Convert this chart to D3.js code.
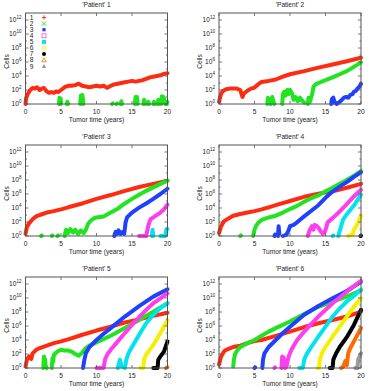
<!DOCTYPE html>
<html><head><meta charset="utf-8">
<script src="https://cdn.jsdelivr.net/npm/d3@7"></script>
<style>
html,body{margin:0;padding:0;background:#fff;}
svg{display:block;font-family:"Liberation Sans",Arial,sans-serif;}
</style></head>
<body><svg id="c" width="374" height="391"></svg>
<script>
// ---- data: [time (years), log10(cells)], null = gap ----
const xTicks = [0, 5, 10, 15, 20];
const yExps = [0, 2, 4, 6, 8, 10, 12];
const legendLabels = ["1","2","3","4","5","6","7","8","9"];
const titles = ["'Patient' 1","'Patient' 2","'Patient' 3","'Patient' 4","'Patient' 5","'Patient' 6"];

const p1s1 = [[0,0],[0.1,0.9],[0.3,1.4],[0.6,1.9],[1,2.3],[1.3,2.2],[1.6,2.4],[2,2.0],[2.3,2.2],[2.6,2.3],[3,1.8],[3.3,1.6],[3.6,1.7],[4,1.6],[4.3,1.8],[4.6,1.7],[5,2.0],[5.5,2.4],[6,2.6],[6.5,2.6],[7,2.7],[7.5,2.9],[8,2.6],[8.5,2.5],[9,2.4],[9.5,2.5],[10,2.6],[10.5,2.5],[11,2.6],[11.5,2.3],[12,2.6],[12.5,2.8],[13,2.9],[13.5,3.0],[14,3.1],[14.5,3.2],[15,3.3],[15.5,3.2],[16,3.3],[16.5,3.4],[17,3.6],[17.5,3.8],[18,3.9],[18.5,4.0],[19,4.1],[19.5,4.3],[20,4.4]];
const p1s2 = [[4.7,0],[4.8,0.9],[4.85,0.3],[4.95,0.8],[5.0,0],null,[5.8,0],[5.9,0.3],[6.0,0],null,[7.7,0],[7.8,1.2],[7.9,0.6],[8.0,1.3],[8.1,0.5],[8.15,0],null,[12.2,0],[12.3,0.1],null,[12.8,0],[12.9,0.1],null,[13.4,0],[13.5,0.4],[13.6,0],null,[15.4,0],[15.5,1.0],[15.6,0.5],[15.7,1.0],[15.8,0],null,[16.6,0],[16.7,0.6],[16.8,0],null,[17.2,0],[17.3,0.3],[17.4,0],null,[18.0,0],[18.1,0.3],[18.2,0],null,[18.6,0],[18.7,0.6],[18.8,0],null,[19.1,0],[19.2,1.1],[19.3,0.7],[19.45,1.0],[19.6,0.2],[19.7,0],null,[19.9,0],[20,0.3]];

const p2s1 = [[0,0.3],[0.3,1.5],[0.6,1.9],[1,2.1],[1.5,2.2],[2,2.2],[2.5,2.2],[3,2.0],[3.3,1.0],[3.5,1.5],[4,1.9],[4.5,2.2],[5,2.35],[5.5,2.8],[6,3.15],[7,3.3],[8,3.5],[9,3.9],[10,4.25],[12,4.7],[14,5.2],[16,5.65],[18,6.1],[20,6.6]];
const p2s2 = [[6.8,0],[6.9,0.9],[7.0,0.2],[7.3,0],[7.5,1.0],[7.7,0.3],[7.8,0],null,[8.9,0],[9.0,1.4],[9.2,1.75],[9.4,1.2],[9.6,2.0],[9.8,1.4],[10.0,2.0],[10.3,1.5],[10.5,0.6],[10.8,1.0],[11.1,0.4],[11.4,0.9],[11.7,0.5],[12.0,0.2],null,[12.5,0],[12.6,0.9],[12.8,0.3],[13.0,1.0],[13.15,1.5],[13.3,2.45],[13.6,2.8],[14,3.0],[15,3.4],[16,3.8],[17,4.25],[18,4.7],[19,5.3],[20,5.95]];
const p2s3 = [[15.8,0],[15.9,0.7],[16.1,0.9],[16.3,0.2],[16.6,0],[17.0,0.3],[17.3,0.6],[17.6,0.9],[17.9,1.0],[18.2,0.9],[18.5,1.3],[18.8,1.4],[19.0,1.75],[19.3,1.9],[19.5,2.2],[19.8,2.5],[20,2.9]];

const p3s1 = [[0,0.3],[0.2,1.3],[0.5,1.8],[1,2.4],[1.5,2.8],[2,3.0],[3,3.35],[4,3.55],[5,3.8],[6,4.1],[8,4.65],[10,5.3],[12,5.85],[14,6.45],[16,7.0],[18,7.45],[20,7.9]];
const p3s2 = [[2.2,0],[2.3,0.1],null,[3.7,0],[3.8,0.1],null,[4.5,0],[4.6,0.1],null,[5.5,0],[5.7,0.9],[6.0,0.4],[6.3,1.0],[6.7,0.5],[7.0,0.9],[7.4,0.3],[7.8,0.8],[8.2,0.4],[8.5,0.9],[8.8,1.7],[9.2,2.2],[9.6,2.5],[10,2.65],[11,2.8],[12,3.35],[13,3.9],[14,4.65],[15,5.3],[16,5.9],[17,6.45],[18,6.95],[19,7.45],[20,7.9]];
const p3s3 = [[12.5,0],[12.7,0.6],[12.9,0.3],[13.1,0.8],[13.4,0.3],[13.7,0.6],[13.9,0.3],[14.1,1.95],[14.3,2.65],[15,3.35],[16,4.05],[17,4.65],[18,5.3],[19,6.0],[20,6.75]];
const p3s4 = [[16.0,0],[16.6,0],[17.0,0],[17.3,1.5],[17.6,2.4],[18,2.65],[19,3.35],[19.5,3.8],[20,4.5]];
const p3s5 = [[17.8,0],[17.9,0.9],[18.0,0],null,[19.0,0],[19.7,0],[19.85,1.0],[20,1.0]];

const p4s1 = [[0,0.4],[0.3,1.4],[0.7,2.1],[1,2.3],[2,2.9],[3,3.15],[4,3.35],[5,3.55],[6,3.8],[7,4.1],[8,4.4],[10,5.0],[12,5.6],[14,6.05],[16,6.4],[18,6.9],[20,7.45]];
const p4s2 = [[3.0,0],[3.1,0.1],null,[4.8,0],[5.0,0.9],[5.2,1.4],[5.5,1.85],[6,2.3],[7,2.65],[8,2.9],[9,3.35],[10,3.85],[11,4.3],[12,4.9],[13,5.4],[14,5.8],[15,6.4],[16,6.9],[17,7.45],[18,8.0],[19,8.6],[20,9.3]];
const p4s3 = [[7.8,0],[7.9,0.2],null,[8.3,0],[8.4,1.4],[8.5,0.3],null,[9.0,0],[9.5,0.2],[9.8,0.8],[10,1.4],[10.5,1.6],[11,1.95],[11.5,2.4],[12,2.8],[13,3.6],[14,4.4],[15,5.45],[16,6.35],[17,7.05],[18,7.7],[19,8.45],[20,9.1]];
const p4s4 = [[12.5,0],[12.8,0.9],[13.1,1.4],[13.3,0.9],[13.5,1.6],[13.8,1.4],[14,1.2],[14.3,0.7],[14.6,0.3],[14.9,0.6],[15.1,1.2],[15.3,1.95],[16,2.55],[17,3.5],[18,4.55],[19,5.65],[20,6.6]];
const p4s5 = [[16.0,0],[16.1,0.1],null,[16.8,0],[17.2,1.4],[17.5,2.4],[18,3.1],[19,4.35],[20,5.9]];
const p4s6 = [[18.2,0],[18.8,0.2],[19,0.9],[19.5,1.7],[20,2.9]];
const p4s7 = [[19.95,0],[20,0.05]];

const p5s1 = [[0,0.2],[0.2,1.2],[0.5,1.65],[0.8,1.3],[1,2.1],[1.5,2.6],[2,2.85],[3,3.2],[4,3.55],[5,3.8],[6,4.1],[8,4.75],[10,5.35],[12,5.9],[14,6.5],[16,6.95],[18,7.45],[20,7.9]];
const p5s2 = [[2.5,0],[2.6,1.65],[2.75,1.2],[2.85,0.3],[3.0,0],null,[3.7,0],[3.8,1.4],[3.9,0.9],[4,1.9],[4.5,2.35],[5,2.6],[5.5,2.5],[6,2.5],[6.5,2.35],[7,2.0],[7.5,1.75],[8,2.2],[8.5,2.85],[9,3.2],[10,3.65],[12,4.6],[14,5.7],[16,6.85],[18,8.05],[20,9.25]];
const p5s3 = [[8.1,0],[8.3,1.2],[8.5,2.1],[9,3.0],[10,4.0],[11,4.9],[12,5.7],[14,7.35],[16,8.85],[18,10.2],[20,11.25]];
const p5s4 = [[10.0,0],[11.0,0],[11.2,1.2],[11.5,1.9],[12,2.6],[13,3.8],[14,5.0],[15,6.15],[16,7.25],[17,8.3],[18,9.25],[19,9.95],[20,10.65]];
const p5s5 = [[13.0,0],[13.3,1.2],[13.5,0.3],[14.0,0],[14.2,1.2],[14.5,2.1],[15,3.0],[16,4.75],[17,6.4],[18,7.6],[19,8.55],[20,9.25]];
const p5s6 = [[16.2,0],[16.6,0],[16.7,1.2],[17,1.9],[18,3.3],[19,5.0],[20,6.85]];
const p5s7 = [[18.0,0],[18.6,0],[18.7,1.2],[19,1.65],[19.5,2.35],[20,3.8]];
const p5s8 = [[19.8,0],[20,0.1]];

const p6s1 = [[0,0.5],[0.3,1.65],[0.7,2.35],[1,2.6],[2,3.0],[3,3.2],[4,3.55],[5,3.85],[6,4.0],[8,4.6],[10,5.2],[12,5.85],[14,6.4],[16,6.85],[18,7.35],[20,8.05]];
const p6s2 = [[2.0,0.2],[2.1,1.2],[2.3,2.1],[2.7,2.7],[3,3.0],[4,3.55],[5,4.0],[6,4.6],[7,5.2],[8,5.7],[10,6.65],[12,7.7],[14,8.75],[16,9.5],[18,10.2],[20,11.1]];
const p6s3 = [[5.0,0],[5.1,0.1],null,[6.1,0],[6.2,1.2],[6.4,2.1],[7,3.0],[8,4.0],[9,5.0],[10,5.9],[12,7.6],[14,8.85],[16,9.95],[18,11.0],[20,12.3]];
const p6s4 = [[7.8,0],[7.9,0.1],null,[8.8,0],[8.9,1.65],[9.0,0.9],[9.1,1.5],[9.3,0],[9.5,0.2],[9.7,1.2],[9.9,1.9],[10.2,2.6],[11,4.0],[12,5.2],[13,6.3],[14,7.35],[16,9.25],[18,10.9],[20,12.45]];
const p6s5 = [[11.3,0],[11.8,0],[12.0,1.2],[12.3,1.9],[13,3.0],[14,4.5],[15,5.9],[16,7.35],[17,8.5],[18,9.5],[19,10.3],[20,11.2]];
const p6s6 = [[13.9,0],[14.1,0],[14.2,1.2],[14.5,2.1],[15,3.0],[16,4.5],[17,5.9],[18,7.35],[19,8.75],[20,9.95]];
const p6s7 = [[15.6,0],[16.0,0],[16.1,1.2],[16.5,2.1],[17,3.0],[18,4.4],[19,6.15],[20,8.3]];
const p6s8 = [[17.2,0],[17.5,0.2],[17.8,1.0],[18.0,0.4],[18.2,2.1],[18.5,2.85],[19,3.8],[20,5.7]];
const p6s9 = [[19.2,0],[19.5,0],[19.6,1.2],[20,2.1]];

const seriesColors = ["#ff2b10","#1fe41f","#2040ff","#ff3cf0","#00e4f0","#f5ef00","#000000","#ff6a00","#9a9a9a"];

const panels = [
  [p1s1,p1s2],
  [p2s1,p2s2,p2s3],
  [p3s1,p3s2,p3s3,p3s4,p3s5],
  [p4s1,p4s2,p4s3,p4s4,p4s5,p4s6,p4s7],
  [p5s1,p5s2,p5s3,p5s4,p5s5,p5s6,p5s7,p5s8],
  [p6s1,p6s2,p6s3,p6s4,p6s5,p6s6,p6s7,p6s8,p6s9]
];

// ---- layout ----
const colX = [25.5, 219], rowY = [13, 145, 277], PW = 142, PH = 91;
const svg = d3.select("#c");
const axisColor = "#555";
const fs = 6.6;

function symbol(g, i, cx, cy, col) {
  const s = 2.2;
  const p = g.append("g").attr("transform", `translate(${cx},${cy})`);
  if (i === 0) { p.append("path").attr("d",`M${-s},0H${s}M0,${-s}V${s}`).attr("stroke",col).attr("stroke-width",0.9); }
  else if (i === 1) { p.append("path").attr("d",`M${-s},${-s}L${s},${s}M${-s},${s}L${s},${-s}`).attr("stroke",col).attr("stroke-width",0.9); }
  else if (i === 2) { p.append("rect").attr("x",-1.6).attr("y",-1.6).attr("width",3.2).attr("height",3.2).attr("fill",col); }
  else if (i === 3) { p.append("rect").attr("x",-2).attr("y",-2).attr("width",4).attr("height",4).attr("fill","none").attr("stroke",col).attr("stroke-width",0.8); }
  else if (i === 4) { p.append("rect").attr("x",-2).attr("y",-2).attr("width",4).attr("height",4).attr("fill",col); }
  else if (i === 5) { p.append("circle").attr("r",2).attr("fill","none").attr("stroke",col).attr("stroke-width",0.8); }
  else if (i === 6) { p.append("circle").attr("r",2).attr("fill",col); }
  else if (i === 7) { p.append("path").attr("d","M0,-2.2L2.2,1.6L-2.2,1.6Z").attr("fill","none").attr("stroke",col).attr("stroke-width",0.8); }
  else { p.append("path").attr("d","M0,-2.2L2.2,1.6L-2.2,1.6Z").attr("fill",col); }
}

panels.forEach((series, pi) => {
  const x0 = colX[pi % 2], y0 = rowY[Math.floor(pi / 2)];
  const x = d3.scaleLinear().domain([0, 20]).range([x0, x0 + PW]);
  const y = d3.scaleLog().domain([1, 1e13]).range([y0 + PH, y0]);
  const g = svg.append("g");

  // data
  const line = d3.line().defined(d => d !== null).x(d => x(d[0])).y(d => y(Math.pow(10, d[1])));
  series.forEach((s, si) => {
    g.append("path").attr("d", line(s)).attr("fill", "none")
      .attr("stroke", seriesColors[si]).attr("stroke-width", 4)
      .attr("stroke-linejoin", "round").attr("stroke-linecap", "round");
  });

  // frame
  g.append("rect").attr("x", x0).attr("y", y0).attr("width", PW).attr("height", PH)
    .attr("fill", "none").attr("stroke", axisColor).attr("stroke-width", 1);

  // x ticks
  xTicks.forEach(t => {
    const xx = x(t);
    g.append("line").attr("x1", xx).attr("x2", xx).attr("y1", y0 + PH).attr("y2", y0 + PH - 3).attr("stroke", axisColor).attr("stroke-width", 0.8);
    g.append("line").attr("x1", xx).attr("x2", xx).attr("y1", y0).attr("y2", y0 + 3).attr("stroke", axisColor).attr("stroke-width", 0.8);
    g.append("text").attr("x", xx).attr("y", y0 + PH + 9.5).attr("text-anchor", "middle")
      .attr("font-size", fs).attr("fill", "#222").text(t);
  });
  // y ticks
  d3.range(0, 13).forEach(e => {
    const yy = y(Math.pow(10, e));
    const len = e % 2 === 0 ? 3 : 1.6;
    g.append("line").attr("x1", x0).attr("x2", x0 + len).attr("y1", yy).attr("y2", yy).attr("stroke", axisColor).attr("stroke-width", 0.8);
    g.append("line").attr("x1", x0 + PW).attr("x2", x0 + PW - len).attr("y1", yy).attr("y2", yy).attr("stroke", axisColor).attr("stroke-width", 0.8);
  });
  yExps.forEach(e => {
    const yy = y(Math.pow(10, e));
    const t = g.append("text").attr("x", x0 - 4).attr("y", yy + 2.3).attr("text-anchor", "end")
      .attr("font-size", fs).attr("fill", "#222");
    t.append("tspan").text("10");
    t.append("tspan").attr("dy", -3).attr("font-size", 4.6).text(e);
  });

  // labels
  g.append("text").attr("x", x0 + PW / 2).attr("y", y0 - 6).attr("text-anchor", "middle")
    .attr("font-size", fs).attr("fill", "#222").text(titles[pi]);
  g.append("text").attr("x", x0 + PW / 2).attr("y", y0 + PH + 17.5).attr("text-anchor", "middle")
    .attr("font-size", fs).attr("fill", "#222").text("Tumor time (years)");
  g.append("text").attr("transform", `translate(${x0 - 17},${y0 + PH / 2 + 3}) rotate(-90)`)
    .attr("text-anchor", "middle").attr("font-size", fs).attr("fill", "#222").text("Cells");

  // legend in first panel
  if (pi === 0) {
    legendLabels.forEach((lab, i) => {
      const ly = y0 + 4.5 + i * 6.1;
      g.append("text").attr("x", x0 + 6).attr("y", ly + 2.2).attr("text-anchor", "middle")
        .attr("font-size", fs).attr("fill", "#222").text(lab);
      symbol(g, i, x0 + 18.5, ly, seriesColors[i]);
    });
  }
});
</script></body></html>
